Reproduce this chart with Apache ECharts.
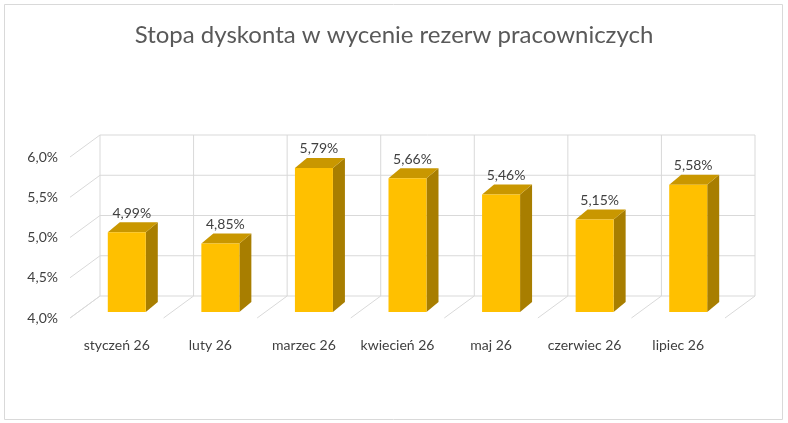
<!DOCTYPE html>
<html><head><meta charset="utf-8">
<script src="https://cdn.jsdelivr.net/npm/echarts@6/dist/echarts.min.js"></script>
<style>html,body{margin:0;padding:0;background:#fff}#c{width:788px;height:423px}</style>
</head><body><div id="c"></div>
<script>
const categories = ['styczeń 26','luty 26','marzec 26','kwiecień 26','maj 26','czerwiec 26','lipiec 26'];
const values = [4.99,4.85,5.79,5.66,5.46,5.15,5.58];
const yTicks = [4.0,4.5,5.0,5.5,6.0];
const title = 'Stopa dyskonta w wycenie rezerw pracowniczych';
const FONT = 'Lato, "Open Sans", sans-serif';
const DX = 30, DY = -22;
const fmt = v => v.toFixed(2).replace('.', ',') + '%';

const chart = echarts.init(document.getElementById('c'));
chart.setOption({
  animation:false,
  title:{text:title,left:'center',top:18,textStyle:{fontFamily:FONT,fontSize:24,fontWeight:'normal',color:'#595959'}},
  graphic:[{type:'rect',shape:{x:4.5,y:4.5,width:778,height:415},style:{fill:null,stroke:'#d9d9d9',lineWidth:1}}],
  grid:{left:70,right:63,top:157,bottom:105},
  xAxis:{type:'category',data:categories,axisLine:{show:false},axisTick:{show:false},
    axisLabel:{interval:0,margin:20,fontFamily:FONT,fontSize:14,color:'#404040'}},
  yAxis:{type:'value',min:4,max:6,interval:0.5,axisLine:{show:false},axisTick:{show:false},splitLine:{show:false},
    axisLabel:{margin:12,fontFamily:FONT,fontSize:14,color:'#404040',formatter:v=>v.toFixed(1).replace('.',',')+'%'}},
  series:[
    {type:'custom',data:[0],z:1,silent:true,clip:false,renderItem:(params,api)=>{
      const cs=params.coordSys, ch=[], st={stroke:'#d9d9d9',lineWidth:1,fill:null};
      yTicks.forEach(t=>{const y=api.coord([0,t])[1];
        ch.push({type:'polyline',shape:{points:[[cs.x,y],[cs.x+DX,y+DY],[cs.x+cs.width+DX,y+DY]]},style:st});});
      const yb=cs.y+cs.height, yt=cs.y;
      for(let k=0;k<=categories.length;k++){const x=cs.x+k*cs.width/categories.length;
        ch.push({type:'line',shape:{x1:x,y1:yb,x2:x+DX,y2:yb+DY},style:st});
        ch.push({type:'line',shape:{x1:x+DX,y1:yb+DY,x2:x+DX,y2:yt+DY},style:st});}
      return {type:'group',children:ch};
    }},
    {type:'custom',data:values.map((v,i)=>[i,v]),z:2,clip:false,renderItem:(params,api)=>{
      const i=api.value(0), v=api.value(1);
      const p0=api.coord([i,4]), p1=api.coord([i,v]);
      const cx=p0[0]+10, bot=p0[1]-6, top=p1[1]-6, w=19, dx=12, dy=-10;
      return {type:'group',children:[
        {type:'polygon',shape:{points:[[cx+w,top],[cx+w+dx,top+dy],[cx+w+dx,bot+dy],[cx+w,bot]]},style:{fill:'#A87E00'}},
        {type:'polygon',shape:{points:[[cx-w,top],[cx-w+dx,top+dy],[cx+w+dx,top+dy],[cx+w,top]]},style:{fill:'#C99700'}},
        {type:'rect',shape:{x:cx-w,y:top,width:2*w,height:bot-top},style:{fill:'#FFC000'}},
        {type:'text',x:cx+5,y:top-12,style:{text:fmt(v),align:'center',verticalAlign:'bottom',fontFamily:FONT,fontSize:14,fill:'#404040'}}
      ]};
    }}
  ]
});
</script></body></html>
